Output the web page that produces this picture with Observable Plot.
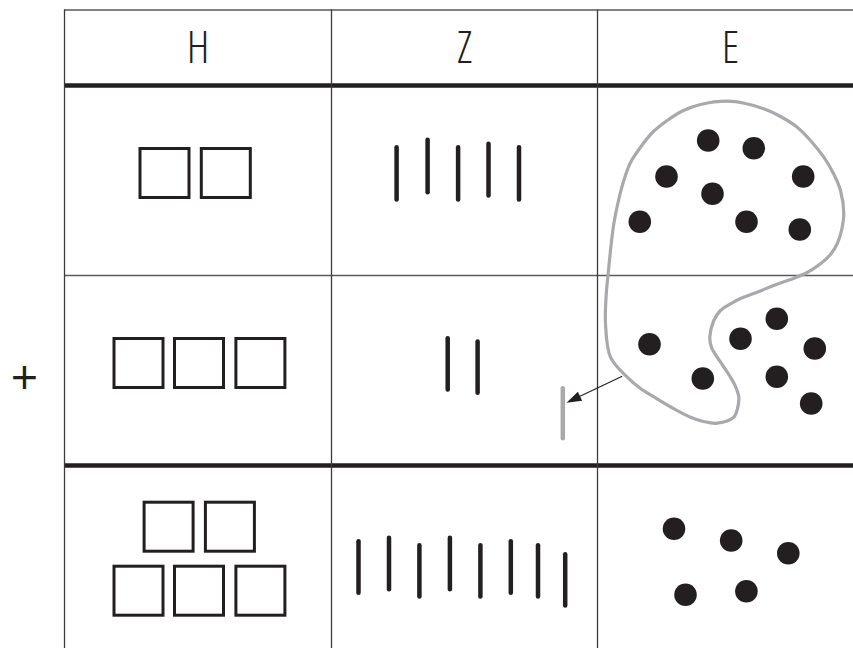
<!DOCTYPE html>
<html>
<head>
<meta charset="utf-8">
<script src="https://cdn.jsdelivr.net/npm/d3@7"></script>
<script src="https://cdn.jsdelivr.net/npm/@observablehq/plot@0.6"></script>
<style>
  html, body { margin: 0; padding: 0; background: #fff; }
  #chart svg { display: block; }
</style>
</head>
<body>
<div id="chart"></div>
<script>
// ---- table layout (chart units = pixels through identity scales) ----
const columns = ["H", "Z", "E"];
const colEdges = [64, 331, 597, 863];
const tableTop = 9.5;
const tableBottom = 648;
const thinRules = [9.5, 275];
const thickRules = [85, 465];
const headerY = 48;
const plusSign = [{x: 24, y: 378, label: "+"}];

// ---- H: hundreds squares (centres) ----
const squareX = [164.5, 225.8, 138.5, 199, 260.4, 168.6, 229.9, 138.5, 199, 260.4];
const squareY = [173, 173, 363, 363, 363, 526.7, 526.7, 590.7, 590.7, 590.7];
const squareSize = 49;

// ---- Z: tens rods ----
const rodX      = [396.1, 427.1, 457.6, 488, 518.5, 447.2, 477.1, 358, 388.5, 418.9, 449.4, 479.9, 510.3, 537.5, 564.7];
const rodTop    = [146.7, 139.3, 146.7, 143.3, 146.7, 337.7, 341, 540.7, 537.3, 544.7, 537.3, 544.7, 540.7, 544.7, 553.7];
const rodBottom = [199, 191.7, 199, 195, 199, 389, 392.3, 592.3, 588.7, 596, 588.7, 596, 592.3, 596, 605];
// carried ten (grey)
const carryRod = [{x: 562.3, y1: 387.7, y2: 437.7}];

// ---- E: ones dots ----
const dotX = [707.7, 753.3, 666, 712, 802.7, 639.3, 746, 799.3,
              649, 702.3, 740, 776.3, 814.3, 776.3, 810.7,
              673.5, 730.7, 787.8, 685, 745.9];
const dotY = [140, 147.7, 176, 193.3, 176, 221.3, 221.3, 229,
              343.7, 378, 338.3, 318.3, 348, 376.3, 403,
              528.3, 540, 552.7, 594.3, 590.7];

// ---- grouping loop (grey closed curve) ----
const loopX = [626.7, 610, 605, 606, 607.5, 610, 613.3, 618, 623.3, 630, 640, 652, 666.7, 683, 700, 726.7, 745, 763.3, 780, 796.7, 810, 823.3, 833, 840, 843.3, 841, 836.7, 830, 820, 806.7, 790, 773, 756.7, 740, 730, 720, 713.3, 709.3, 711, 716.7, 723, 730, 735, 738.3, 737, 733.3, 716.7, 703, 690, 673, 656.7, 640];
const loopY = [376.7, 356.7, 323.3, 290, 275, 250, 223.3, 200, 180, 162, 146.7, 132, 120, 110, 104, 100.7, 103, 108.3, 116, 126.7, 140, 156.7, 173, 190, 213.3, 230, 243.3, 254, 263.3, 272, 279, 285, 291.7, 298, 303.3, 310, 320, 336.7, 347, 356.7, 366, 376.7, 386, 396.7, 408, 416.7, 422.7, 421, 416.7, 408, 398.3, 388];

// ---- arrow from loop to carried ten ----
const arrowFrom = {x: 621.7, y: 375.7};
const arrowTo = {x: 566, y: 402.3};

// ---- build tables ----
const headers = columns.map((c, i) => ({label: c, x: (colEdges[i] + colEdges[i + 1]) / 2, y: headerY}));
const squares = squareX.map((x, i) => ({x1: x - squareSize / 2, x2: x + squareSize / 2, y1: squareY[i] - squareSize / 2, y2: squareY[i] + squareSize / 2}));
const rods = rodX.map((x, i) => ({x, y1: rodTop[i], y2: rodBottom[i]}));
const dots = dotX.map((x, i) => ({x, y: dotY[i]}));
const loop = loopX.map((x, i) => ({x, y: loopY[i]}));
const hRules = thinRules.map(y => ({y, w: 1.4, c: "#58595b"})).concat(thickRules.map(y => ({y, w: 4.5, c: "#231f20"})));
const vRules = colEdges.slice(0, 3).map(x => ({x}));

// arrowhead triangle derived from arrow direction
const ang = Math.atan2(arrowTo.y - arrowFrom.y, arrowTo.x - arrowFrom.x);
const headLen = 15, headHalf = 5;
const bx = arrowTo.x - headLen * Math.cos(ang), by = arrowTo.y - headLen * Math.sin(ang);
const head = [
  {x: arrowTo.x, y: arrowTo.y},
  {x: bx + headHalf * Math.sin(ang), y: by - headHalf * Math.cos(ang)},
  {x: bx - headHalf * Math.sin(ang), y: by + headHalf * Math.cos(ang)}
];
const shaft = [{x1: arrowFrom.x, y1: arrowFrom.y, x2: bx, y2: by}];

const W = 853, Hh = 648;
const chart = Plot.plot({
  width: W,
  height: Hh,
  margin: 0,
  x: {domain: [0, W], range: [0, W], axis: null},
  y: {domain: [0, Hh], range: [0, Hh], axis: null},
  style: {background: "#fff"},
  marks: [
    // table rules
    Plot.ruleY(hRules, {y: "y", x1: colEdges[0], x2: W, stroke: d => d.c, strokeWidth: d => d.w}),
    Plot.ruleX(vRules, {x: "x", y1: tableTop, y2: tableBottom, stroke: "#3a3a3c", strokeWidth: 1.3}),
    // header letters
    Plot.text(headers, {x: "x", y: "y", text: "label", fontSize: 45, fontWeight: 300, fontFamily: "'Open Sans', sans-serif", fill: "#231f20", className: "hdr"}),
    // plus sign
    Plot.text(plusSign, {x: "x", y: "y", text: "label", fontSize: 48, fontWeight: 400, fontFamily: "'Open Sans', sans-serif", fill: "#231f20"}),
    // hundreds
    Plot.rect(squares, {x1: "x1", x2: "x2", y1: "y1", y2: "y2", fill: "none", stroke: "#231f20", strokeWidth: 3}),
    // tens
    Plot.link(rods, {x1: "x", x2: "x", y1: "y1", y2: "y2", stroke: "#231f20", strokeWidth: 4.5, strokeLinecap: "round"}),
    Plot.link(carryRod, {x1: "x", x2: "x", y1: "y1", y2: "y2", stroke: "#a7a9ac", strokeWidth: 4.5, strokeLinecap: "round"}),
    // grouping loop
    Plot.line(loop, {x: "x", y: "y", curve: "catmull-rom-closed", stroke: "#a7a9ac", strokeWidth: 3.2}),
    // ones
    Plot.dot(dots, {x: "x", y: "y", r: 11.3, fill: "#231f20", stroke: "none"}),
    // arrow
    Plot.link(shaft, {x1: "x1", y1: "y1", x2: "x2", y2: "y2", stroke: "#231f20", strokeWidth: 1.1}),
    Plot.line(head, {x: "x", y: "y", curve: "linear-closed", fill: "#231f20", stroke: "none"})
  ]
});
chart.querySelectorAll("g.hdr text").forEach(t => t.style.fontStretch = "75%");
document.getElementById("chart").appendChild(chart);
</script>
</body>
</html>
